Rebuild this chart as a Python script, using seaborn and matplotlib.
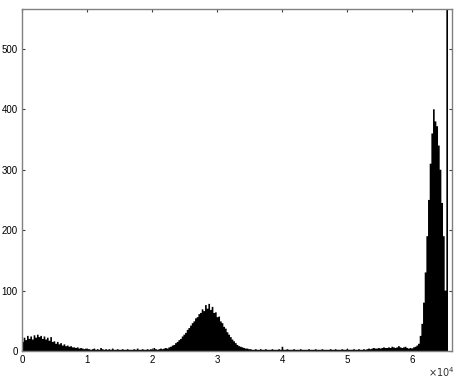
import numpy as np
import pandas as pd
import matplotlib
matplotlib.use("Agg")
import matplotlib.pyplot as plt
import seaborn as sns

# Histogram counts (256 bins over 0..65535)
counts_dark = [15, 22, 18, 25, 20, 24, 19, 26, 22, 27,
               23, 25, 20, 24, 19, 22, 17, 23, 15, 16,
               12, 15, 11, 13, 9, 11, 8, 9, 7, 8,
               6, 6, 5, 6, 4, 5, 4, 3, 4, 3]
counts_low1 = [3, 2, 3, 4, 2, 3, 2, 5, 3, 2,
               3, 2, 3, 2, 4, 2, 2, 3, 2, 2,
               3, 2, 2, 3, 2, 2, 2, 3, 2, 4,
               2, 2, 3, 2, 2, 3, 2, 3, 2, 5,
               3, 2, 3, 4, 3, 4]
counts_mid = [5, 4, 6, 7, 9, 10, 13, 15, 18, 20,
              24, 27, 30, 35, 38, 42, 46, 49, 54, 56,
              61, 63, 69, 66, 76, 70, 78, 68, 73, 63,
              64, 56, 57, 49, 46, 40, 37, 31, 27, 23,
              19, 16, 13, 10, 8, 7, 6, 5, 4, 4]
counts_low2 = [3, 3, 2, 2, 3, 2, 2, 3, 2, 2,
               3, 2, 2, 2, 3, 2, 2, 2, 3, 2,
               7, 2, 2, 3, 2, 2, 2, 3, 2, 2,
               2, 3, 2, 2, 2, 2, 3, 2, 2, 2,
               3, 2, 2, 2, 3, 2, 2, 2, 2, 3,
               2, 2, 3, 2, 2, 2, 3, 2, 2, 3,
               2, 2, 2, 3, 2, 2, 3, 2, 2, 3,
               2, 3,
               4, 3, 4, 5, 4, 4, 5, 4, 5, 6,
               5, 5, 6, 5, 7, 6, 5, 6, 8, 6,
               5, 6, 7, 5, 4, 5, 4, 6, 7, 9]
counts_bright = [12, 25, 45, 80, 130, 190, 250, 310, 360, 400,
                 380, 372, 340, 300, 245, 190, 100]
counts_saturated = [1500]

x_ticks = [0, 10000, 20000, 30000, 40000, 50000, 60000]
x_ticklabels = ["0", "1", "2", "3", "4", "5", "6"]
y_ticks = [0, 100, 200, 300, 400, 500]

counts = np.array(counts_dark + counts_low1 + counts_mid + counts_low2
                  + counts_bright + counts_saturated, dtype=float)
n_bins = len(counts)
edges = np.linspace(0, 65536, n_bins + 1)
centers = (edges[:-1] + edges[1:]) / 2
df = pd.DataFrame({"intensity": centers, "count": counts})

sns.set_style("white")
plt.rcParams["font.family"] = ["Liberation Sans", "DejaVu Sans"]

fig = plt.figure(figsize=(4.61, 3.79), dpi=100)
ax = fig.add_axes([22 / 461, 28 / 379, 430 / 461, 342 / 379])

sns.histplot(data=df, x="intensity", weights="count", bins=list(edges),
             element="step", fill=True, color="black", alpha=1,
             linewidth=0, ax=ax)

ax.set_xlim(0, 66150)
ax.set_ylim(0, 566)
ax.set_xticks(x_ticks)
ax.set_xticklabels(x_ticklabels)
ax.set_yticks(y_ticks)
ax.set_xlabel("")
ax.set_ylabel("")

for s in ax.spines.values():
    s.set_visible(True)
    s.set_color("#808080")
    s.set_linewidth(1.0)
ax.tick_params(axis="both", direction="in", length=2.5, width=0.8,
               color="#404040", labelsize=7, labelcolor="black",
               top=True, right=True, bottom=True, left=True, pad=3)

fig.text(441 / 461, 1 - 372 / 379, r"$\times10^{4}$", fontsize=7,
         ha="center", va="center", color="#303030")

fig.savefig("out.png", dpi=100)
